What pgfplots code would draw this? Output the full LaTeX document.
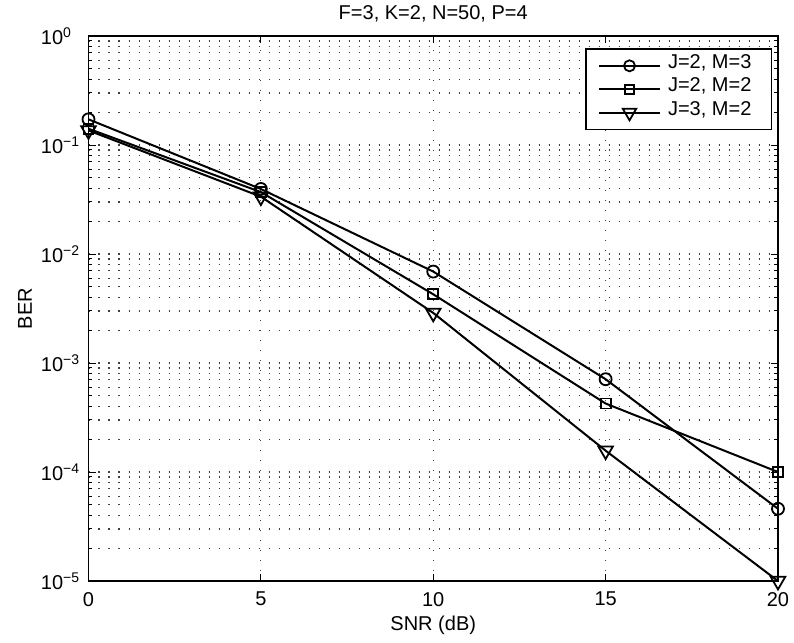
\documentclass[border=0pt]{standalone}
\usepackage{pgfplots}
\pgfplotsset{compat=1.18}
\usepackage{fontspec}
\setmainfont{Liberation Sans}
\newcommand{\chfont}{\fontsize{10pt}{12pt}\selectfont}
\newcommand{\ex}[1]{10\textsuperscript{\makebox[8.6pt][l]{#1}}}
\begin{document}
\chfont
\begin{tikzpicture}
\path[use as bounding box] (-44.25pt,-31pt) rectangle (352.75pt,290.5pt);
\begin{semilogyaxis}[
  at={(0,0)}, anchor=south west,
  scale only axis, width=344.75pt, height=272.5pt,
  xmin=0, xmax=20, ymin=1e-5, ymax=1,
  xtick={0,5,10,15,20},
  xticklabels={0,5,10,15,20},
  ytick={1e-5,1e-4,1e-3,1e-2,1e-1,1},
  yticklabels={\ex{−5},\ex{−4},\ex{−3},\ex{−2},\ex{−1},\ex{0}},
  tick label style={font=\chfont},
  xticklabel style={yshift=-2pt},
  axis line style={line width=0.65pt},
  every tick/.style={black, line width=0.5pt},
  major tick length=3.5pt, minor tick length=1.8pt,
  tick align=inside,
  grid=both,
  major grid style={black!75, line width=0.55pt, dash pattern=on 0.55pt off 4.45pt},
  minor grid style={black!75, line width=0.55pt, dash pattern=on 0.55pt off 4.45pt},
  title={F=3, K=2, N=50, P=4},
  every axis title shift=0pt,
  title style={font=\chfont, at={(axis description cs:0.5,1)}, anchor=center, yshift=11pt},
  xlabel={SNR (dB)},
  ylabel={BER},
  label style={font=\chfont},
  xlabel style={at={(axis description cs:0.5,-0.0807)}, anchor=center},
  ylabel style={at={(axis description cs:-0.0921,0.5)}, anchor=center},
  legend style={at={(axis description cs:0.9913,0.9774)}, anchor=north east,
    draw=black, line width=0.6pt, fill=white, font=\chfont,
    inner xsep=6pt, inner ysep=2.6pt, column sep=3.5pt, row sep=0pt,
    nodes={inner xsep=0pt, inner ysep=0pt, text height=7.2pt, text depth=4.5pt}},
  legend cell align=left,
  legend image code/.code={\draw[mark repeat=2,mark phase=2,#1,every mark/.append style={scale=0.92}] plot coordinates {(0pt,0pt) (15.25pt,0pt) (30.5pt,0pt)};},
  every axis plot/.append style={line width=1pt, black},
]
\addplot[mark=o, mark size=3pt, mark options={line width=0.9pt}] coordinates {
  (0,0.172) (5,0.0395) (10,0.0069) (15,7.1e-4) (20,4.6e-5)};
\addlegendentry{J=2, M=3\hspace*{4pt}}
\addplot[mark=square, mark size=2.5pt, mark options={line width=0.9pt}] coordinates {
  (0,0.141) (5,0.037) (10,0.00427) (15,4.25e-4) (20,1.0e-4)};
\addlegendentry{J=2, M=2\hspace*{4pt}}
\addplot[mark=triangle, mark size=4.2pt, mark options={line width=0.9pt, rotate=180}] coordinates {
  (0,0.136) (5,0.0336) (10,0.00288) (15,1.57e-4) (20,1.0e-5)};
\addlegendentry{J=3, M=2\hspace*{4pt}}
\end{semilogyaxis}
\end{tikzpicture}
\end{document}
